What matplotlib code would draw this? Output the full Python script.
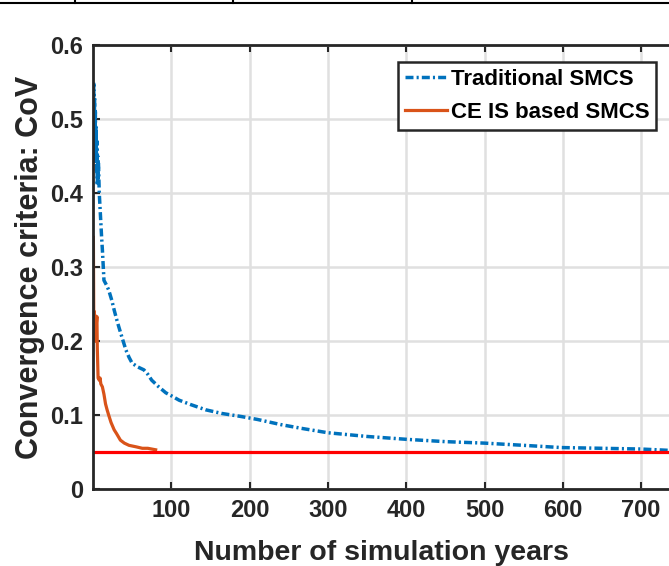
import matplotlib
matplotlib.use('Agg')
import matplotlib.pyplot as plt
from matplotlib.lines import Line2D

plt.rcParams['font.family'] = ['Liberation Sans', 'DejaVu Sans']
plt.rcParams['font.weight'] = 'bold'

# Traditional SMCS convergence
trad_years = [0.5, 1, 1.5, 2, 2.5, 3, 3.5, 4, 4.5, 5, 5.5, 6, 6.5, 7, 8, 9, 10, 11, 12, 14,
              17, 20, 24, 27, 30, 33, 37, 42, 46, 50, 57, 65, 70, 75, 84, 93, 100, 110, 125,
              144, 165, 189, 210, 240, 266, 300, 350, 402, 450, 500, 550, 598, 650, 700, 740]
trad_cov = [0.45, 0.55, 0.47, 0.53, 0.44, 0.51, 0.45, 0.49, 0.43, 0.47, 0.41, 0.45, 0.42,
            0.44, 0.40, 0.38, 0.36, 0.34, 0.323, 0.282, 0.276, 0.269, 0.255, 0.242, 0.23,
            0.219, 0.205, 0.188, 0.178, 0.170, 0.165, 0.161, 0.155, 0.147, 0.138, 0.130,
            0.126, 0.120, 0.114, 0.107, 0.102, 0.098, 0.094, 0.087, 0.082, 0.076, 0.071,
            0.067, 0.064, 0.062, 0.059, 0.056, 0.055, 0.054, 0.052]

# CE IS based SMCS convergence
ce_years = [0.5, 1, 1.5, 2, 2.5, 3, 3.5, 4, 5, 5.5, 6.5, 8, 9, 10, 12, 14, 16, 18, 20, 23,
            27, 30, 35, 40, 46, 55, 63, 70, 75, 80]
ce_cov = [0.34, 0.22, 0.24, 0.21, 0.235, 0.20, 0.23, 0.22, 0.233, 0.19, 0.15, 0.147, 0.15,
          0.142, 0.138, 0.128, 0.115, 0.107, 0.10, 0.09, 0.08, 0.075, 0.066, 0.062, 0.059,
          0.057, 0.055, 0.055, 0.054, 0.053]

threshold = 0.05
x_ticks = [100, 200, 300, 400, 500, 600, 700]
y_ticks = [0, 0.1, 0.2, 0.3, 0.4, 0.5, 0.6]
y_tick_labels = ['0', '0.1', '0.2', '0.3', '0.4', '0.5', '0.6']

W, H = 669, 566
dark = '#262626'
fig = plt.figure(figsize=(W / 100, H / 100), dpi=100)
ax = fig.add_axes([93 / W, 1 - 489 / H, (W - 93) / W, (489 - 45) / H])

ax.plot(trad_years, trad_cov, color='#0072BD', lw=2.5, linestyle=(0, (2.3, 0.9, 0.6, 0.9)),
        label='Traditional SMCS')
ax.plot(ce_years, ce_cov, color='#D95319', lw=2.3, label='CE IS based SMCS')
ax.axhline(threshold, color='#FF0000', lw=2.3)

ax.set_xlim(0, (W - 93) / 0.783)
ax.set_ylim(0, 0.6)
ax.set_xticks(x_ticks)
ax.set_yticks(y_ticks)
ax.set_yticklabels(y_tick_labels)
ax.grid(True, color='#E0E0E0', lw=1.8)
ax.set_axisbelow(True)

ax.tick_params(direction='in', length=5, width=1.5, top=True, labelsize=17, pad=7,
               colors=dark)
for lab in ax.get_xticklabels() + ax.get_yticklabels():
    lab.set_fontweight('bold')
for side in ['left', 'top', 'bottom']:
    ax.spines[side].set_linewidth(2)
    ax.spines[side].set_color(dark)
ax.spines['right'].set_visible(False)

ax.set_xlabel('Number of simulation years', fontsize=20.5, fontweight='bold', labelpad=13,
              color=dark)
ax.set_ylabel('Convergence criteria: CoV', fontsize=22, fontweight='bold', labelpad=4,
              color=dark)

leg = ax.legend(loc='upper right', bbox_to_anchor=((656 - 93) / (W - 93), 1 - 17 / 444),
                prop={'weight': 'bold', 'size': 16}, handlelength=1.9,
                handletextpad=0.15, borderpad=0.3, labelspacing=0.55, borderaxespad=0,
                fancybox=False, framealpha=1, edgecolor=dark)
leg.get_frame().set_linewidth(1.8)

# table border remnant at the top of the crop
fig.add_artist(Line2D([0, 1], [1 - 3 / H, 1 - 3 / H], color='black', lw=1.5))
for xp in [75, 233, 412]:
    fig.add_artist(Line2D([xp / W, xp / W], [1 - 3 / H, 1], color='black', lw=1.5))

fig.savefig('out.png', dpi=100)
